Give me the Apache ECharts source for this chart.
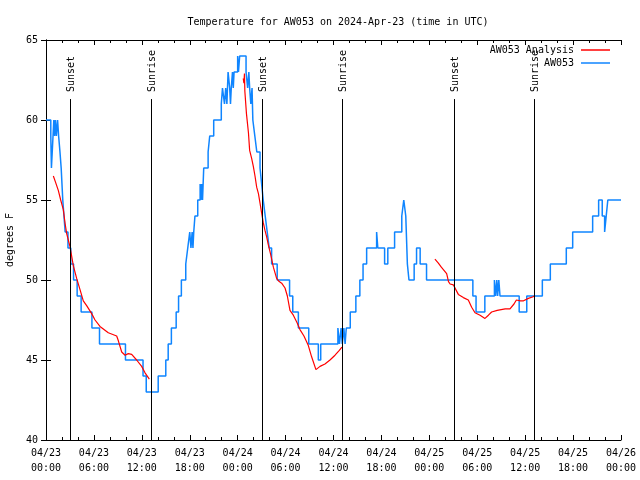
<!DOCTYPE html>
<html>
<head>
<meta charset="utf-8">
<script src="https://cdn.jsdelivr.net/npm/echarts@6/dist/echarts.min.js"></script>
<style>html,body{margin:0;padding:0;background:#fff}#c{width:640px;height:480px}</style>
</head>
<body>
<div id="c"></div>
<script>
// Time in hours since 2024-04-23 00:00 UTC
const xTickLabels = ['04/23\n00:00','04/23\n06:00','04/23\n12:00','04/23\n18:00','04/24\n00:00','04/24\n06:00','04/24\n12:00','04/24\n18:00','04/25\n00:00','04/25\n06:00','04/25\n12:00','04/25\n18:00','04/26\n00:00'];

// AW053 observations (change points: [hour, degF], value holds until the next point)
const aw053 = [[0,60],[0.6,59],[0.68,57],[0.78,58],[0.88,59],[0.98,60],[1.08,59],[1.18,60],[1.3,59],[1.45,60],[1.58,59],[1.75,58],[1.9,57],[2.0,56],[2.1,55],[2.25,54],[2.4,53],[2.75,52],[3.1,51],[3.45,50],[3.9,49],[4.4,48],[5.75,47],[6.7,46],[9.95,45],[12.15,44],[12.55,43],[14.05,44],[15.0,45],[15.3,46],[15.7,47],[16.3,48],[16.6,49],[16.95,50],[17.5,51],[17.75,52],[18.0,53],[18.15,52],[18.3,53],[18.4,52],[18.5,53],[18.65,54],[19.0,55],[19.3,56],[19.4,55],[19.5,56],[19.6,55],[19.75,57],[20.3,58],[20.5,59],[21.0,60],[21.95,61],[22.1,62],[22.35,61],[22.5,62],[22.65,61],[22.8,63],[23.0,62],[23.1,61],[23.2,62],[23.35,63],[23.45,62],[23.55,63],[24.0,64],[24.1,63],[24.25,64],[25.05,63],[25.25,62],[25.4,63],[25.5,62],[25.65,61],[25.8,62],[25.9,60],[26.15,59],[26.4,58],[26.8,57],[27.0,56],[27.2,55],[27.45,54],[27.7,53],[27.95,52],[28.25,51],[28.95,50],[30.5,49],[30.9,48],[31.6,47],[32.9,46],[34.1,45],[34.4,46],[36.55,47],[36.75,46],[36.95,47],[37.1,46],[37.3,47],[37.45,46],[37.6,47],[38.1,48],[38.8,49],[39.3,50],[39.7,51],[40.15,52],[41.4,53],[41.55,52],[42.4,51],[42.8,52],[43.65,53],[44.55,54],[44.8,55],[45.05,54],[45.25,51],[45.45,50],[46.1,51],[46.4,52],[46.85,51],[47.65,50],[53.45,49],[53.85,48],[54.95,49],[56.15,50],[56.3,49],[56.45,50],[56.55,49],[56.7,50],[56.85,49],[59.25,48],[60.2,49],[62.15,50],[63.15,51],[65.15,52],[65.95,53],[68.45,54],[69.2,55],[69.65,54],[69.95,53],[70.15,54],[70.35,55],[72,55]];

// AW053 Analysis (three night-time segments)
const analysisNight1 = [[0.92,56.5],[1.2,56.1],[1.54,55.6],[1.84,55.0],[2.17,54.4],[2.4,53.5],[2.59,52.9],[3.0,52.1],[3.42,50.9],[3.84,50.1],[4.26,49.4],[4.67,48.7],[5.09,48.4],[5.72,47.9],[6.14,47.5],[6.76,47.1],[7.8,46.7],[8.85,46.5],[9.06,46.2],[9.48,45.5],[9.9,45.3],[10.3,45.4],[10.73,45.35],[11.35,45.0],[11.98,44.6],[12.4,44.2],[12.94,43.8]];
const analysisNight2 = [[24.7,62.6],[24.78,62.3],[24.85,62.9],[24.9,61.8],[25.1,60.4],[25.35,59.2],[25.5,58.1],[25.75,57.6],[25.96,57.1],[26.17,56.5],[26.38,55.8],[26.6,55.4],[26.8,54.8],[27.0,54.2],[27.2,53.6],[27.42,53.1],[27.63,52.7],[27.84,52.2],[28.13,51.6],[28.47,50.8],[28.88,50.1],[29.2,49.9],[29.51,49.8],[29.93,49.5],[30.22,49.0],[30.55,48.1],[30.97,47.8],[31.47,47.3],[31.8,46.9],[32.3,46.5],[32.85,45.9],[33.26,45.2],[33.8,44.4],[34.31,44.6],[34.93,44.75],[35.56,45.0],[36.19,45.3],[36.73,45.6],[37.05,45.8]];
const analysisNight3 = [[48.7,51.3],[49.13,51.05],[49.5,50.8],[49.75,50.7],[50.17,50.4],[50.4,49.9],[50.6,49.75],[51.0,49.7],[51.63,49.1],[52.26,48.9],[52.88,48.75],[53.3,48.3],[53.72,47.95],[54.35,47.8],[54.97,47.6],[55.4,47.8],[55.8,48.0],[56.5,48.1],[57.5,48.2],[58.1,48.2],[58.6,48.5],[58.9,48.75],[59.4,48.7],[59.8,48.7],[60.4,48.85],[61.0,48.95],[61.15,49.0]];

// Sun events [hour, label]
const sunEvents = [[3.05,'Sunset'],[13.2,'Sunrise'],[27.08,'Sunset'],[37.12,'Sunrise'],[51.13,'Sunset'],[61.15,'Sunrise']];

const FONT = 'DejaVu Sans Mono';
const SUN_LINE_TOP = 61.31; // degF level where the marker lines end

const analysisData = [].concat(analysisNight1, [[18, null]], analysisNight2, [[43, null]], analysisNight3);

const chart = echarts.init(document.getElementById('c'), null, {renderer: 'canvas'});
chart.setOption({
  animation: false,
  backgroundColor: '#fff',
  textStyle: {fontFamily: FONT},
  title: {
    text: 'Temperature for AW053 on 2024-Apr-23 (time in UTC)',
    left: 333, top: 12, textAlign: 'center',
    textStyle: {fontFamily: FONT, fontSize: 10, fontWeight: 'normal', color: '#000'}
  },
  legend: [
    {data: ['AW053 Analysis'], right: 30, top: 44, align: 'right', orient: 'vertical', padding: 0,
     icon: 'rect', itemWidth: 29, itemHeight: 1.5,
     textStyle: {fontFamily: FONT, fontSize: 10, color: '#000', lineHeight: 12, padding: [0, 2, 0, 0]}},
    {data: ['AW053'], right: 30, top: 57, align: 'right', orient: 'vertical', padding: 0,
     icon: 'rect', itemWidth: 29, itemHeight: 1.5,
     textStyle: {fontFamily: FONT, fontSize: 10, color: '#000', lineHeight: 12, padding: [0, 2, 0, 0]}}
  ],
  grid: {left: 46, right: 19, top: 40, bottom: 40, containLabel: false, outerBoundsMode: 'none'},
  xAxis: [
    {type: 'value', min: 0, max: 72, interval: 6, position: 'bottom',
     axisLine: {lineStyle: {color: '#000', width: 1}},
     axisTick: {inside: true, length: 5, lineStyle: {color: '#000'}},
     minorTick: {show: true, splitNumber: 3, length: 3, lineStyle: {color: '#000'}},
     splitLine: {show: false},
     axisLabel: {fontFamily: FONT, fontSize: 10, color: '#000', lineHeight: 15, margin: 6,
       formatter: v => xTickLabels[Math.round(v / 6)]}},
    {type: 'value', min: 0, max: 72, interval: 6, position: 'top',
     axisLine: {lineStyle: {color: '#000', width: 1}},
     axisTick: {inside: true, length: 5, lineStyle: {color: '#000'}},
     minorTick: {show: true, splitNumber: 3, length: 3, lineStyle: {color: '#000'}},
     splitLine: {show: false}, axisLabel: {show: false}}
  ],
  yAxis: [
    {type: 'value', min: 40, max: 65, interval: 5, position: 'left',
     name: 'degrees F', nameLocation: 'middle', nameGap: 30,
     nameTextStyle: {fontFamily: FONT, fontSize: 10, color: '#000'},
     axisLine: {show: true, lineStyle: {color: '#000', width: 1}},
     axisTick: {show: true, inside: true, length: 5, lineStyle: {color: '#000'}},
     splitLine: {show: false},
     axisLabel: {fontFamily: FONT, fontSize: 10, color: '#000', margin: 8}},
    {type: 'value', min: 40, max: 65, interval: 5, position: 'right',
     axisLine: {show: true, lineStyle: {color: '#000', width: 1}},
     axisTick: {show: true, inside: true, length: 5, lineStyle: {color: '#000'}},
     splitLine: {show: false}, axisLabel: {show: false}}
  ],
  series: [
    {name: 'AW053 Analysis', type: 'line', data: analysisData, showSymbol: false, symbol: 'none',
     connectNulls: false, color: '#ff0000', lineStyle: {color: '#ff0000', width: 1.2}, z: 3},
    {name: 'AW053', type: 'line', data: aw053, step: 'end', showSymbol: false, symbol: 'none',
     color: '#0f85ff', lineStyle: {color: '#0f85ff', width: 1.5}, z: 2},
    {name: 'sun', type: 'custom', data: sunEvents, encode: {x: 0}, z: 4, clip: false,
     renderItem: function (params, api) {
       const h = api.value(0);
       const lbl = sunEvents[params.dataIndex][1];
       const p0 = api.coord([h, 40]);
       const p1 = api.coord([h, SUN_LINE_TOP]);
       const x = Math.round(p0[0]) + 0.5;
       return {type: 'group', children: [
         {type: 'line', shape: {x1: x, y1: p0[1], x2: x, y2: p1[1]}, style: {stroke: '#000', lineWidth: 1}},
         {type: 'text', x: x + 1, y: p1[1] - 7, rotation: Math.PI / 2,
          style: {text: lbl, font: '10px ' + FONT, fill: '#000', textAlign: 'left', textVerticalAlign: 'middle'}}
       ]};
     }}
  ]
});
</script>
</body>
</html>
